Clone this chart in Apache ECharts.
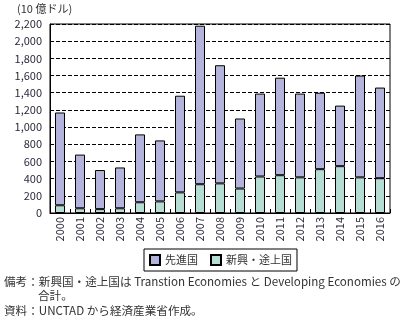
<!DOCTYPE html>
<html>
<head>
<meta charset="utf-8">
<script src="https://cdn.jsdelivr.net/npm/echarts@6/dist/echarts.min.js"></script>
<style>
  html, body { margin: 0; padding: 0; background: #fff; }
  #chart { width: 408px; height: 323px; }
</style>
</head>
<body>
<div id="chart"></div>
<script>
// 対外直接投資額（10億ドル）
const years = ['2000','2001','2002','2003','2004','2005','2006','2007','2008',
               '2009','2010','2011','2012','2013','2014','2015','2016'];
const emerging = [90, 55, 45, 55, 125, 135, 240, 335, 345, 285, 425, 440, 415, 510, 545, 415, 405];
const totals   = [1170, 680, 500, 530, 915, 845, 1365, 2180, 1720, 1100, 1390, 1575, 1390, 1400, 1250, 1600, 1460];
const developed = totals.map((t, i) => t - emerging[i]);
const yTicks = { min: 0, max: 2200, interval: 200 };

const FONT = '"Noto Sans CJK JP", "Noto Sans", sans-serif';
const chart = echarts.init(document.getElementById('chart'), null, { renderer: 'canvas' });

chart.setOption({
  animation: false,
  textStyle: { fontFamily: FONT },
  grid: {
    left: 50, right: 18, top: 24, bottom: 110,
    show: true, borderColor: '#000', borderWidth: 1
  },
  xAxis: {
    type: 'category',
    data: years,
    axisLine: { lineStyle: { color: '#000', width: 1 } },
    axisTick: { show: true, inside: true, length: 4, lineStyle: { color: '#000' } },
    axisLabel: { rotate: 90, fontSize: 11, color: '#2a2a3a', margin: 4, fontFamily: FONT }
  },
  yAxis: {
    type: 'value',
    min: yTicks.min, max: yTicks.max, interval: yTicks.interval,
    axisLine: { show: true, lineStyle: { color: '#000' } },
    axisTick: { show: false },
    axisLabel: {
      fontSize: 11, color: '#2a2a3a', margin: 8, fontFamily: FONT,
      formatter: v => v.toLocaleString('en-US')
    },
    splitLine: { lineStyle: { color: '#000', type: [4, 2], width: 1 } }
  },
  legend: {
    top: 249,
    left: 144,
    icon: 'rect',
    itemWidth: 10, itemHeight: 10, itemGap: 12,
    padding: [5, 5],
    borderColor: '#000', borderWidth: 1,
    textStyle: { fontSize: 11, color: '#333', fontFamily: FONT },
    data: ['先進国', '新興・途上国']
  },
  series: [
    {
      name: '新興・途上国', type: 'bar', stack: 'total',
      data: emerging, barWidth: 10,
      itemStyle: { color: '#b5ddd3', borderColor: '#000', borderWidth: 1 }
    },
    {
      name: '先進国', type: 'bar', stack: 'total',
      data: developed, barWidth: 10,
      itemStyle: { color: '#b3b3db', borderColor: '#000', borderWidth: 1 }
    }
  ],
  graphic: [
    { type: 'text', left: 17, top: 3, style: { text: '(10 億ドル)', fontSize: 11, fill: '#333', fontFamily: FONT } },
    { type: 'text', left: 4, top: 276, style: { text: '備考：新興国・途上国は Transtion Economies と Developing Economies の', fontSize: 11.6, fill: '#333', fontFamily: FONT } },
    { type: 'text', left: 38, top: 290, style: { text: '合計。', fontSize: 11.6, fill: '#333', fontFamily: FONT } },
    { type: 'text', left: 4, top: 305, style: { text: '資料：UNCTAD から経済産業省作成。', fontSize: 11.6, fill: '#333', fontFamily: FONT } }
  ]
});
</script>
</body>
</html>
